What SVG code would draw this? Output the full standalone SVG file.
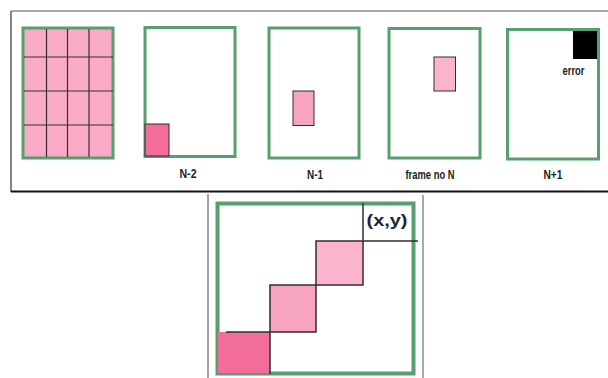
<svg xmlns="http://www.w3.org/2000/svg" width="608" height="378" viewBox="0 0 608 378">
<style>
.frame{fill:#ffffff;stroke:#55a06c;stroke-width:3}
.grid{stroke:#3a2a2e;stroke-width:1.2;fill:none}
.edge{stroke:#3a2a2e;stroke-width:1.5;fill:none}
.lbl{font-family:"Liberation Sans",Arial,sans-serif;font-weight:bold;font-size:12px;fill:#222;text-anchor:middle}
</style>
<rect width="608" height="378" fill="#ffffff"/>
<!-- top box -->
<g id="top-box">
<line x1="11" y1="11" x2="608" y2="11" stroke="#555" stroke-width="1"/>
<line x1="11" y1="11" x2="11" y2="192" stroke="#333" stroke-width="1.2"/>
<line x1="11" y1="191.5" x2="608" y2="191.5" stroke="#111" stroke-width="2"/>
</g>
<g id="panel-grid">
<rect x="23" y="28" width="90" height="130" fill="#f9aac6" stroke="#55a06c" stroke-width="3"/>
<g class="grid">
<line x1="46.5" y1="29" x2="46.5" y2="157"/>
<line x1="67.5" y1="29" x2="67.5" y2="157"/>
<line x1="89" y1="29" x2="89" y2="157"/>
<line x1="24" y1="57" x2="113" y2="57"/>
<line x1="24" y1="91" x2="113" y2="91"/>
<line x1="24" y1="125" x2="113" y2="125"/>
</g>
</g>
<g id="panel-n-2">
<rect class="frame" x="145" y="27.5" width="90" height="129"/>
<rect x="145" y="124" width="24" height="32" fill="#f26d9b" stroke="#3a2a2e" stroke-width="1"/>
<text class="lbl" x="188" y="178" textLength="17" lengthAdjust="spacingAndGlyphs">N-2</text>
</g>
<g id="panel-n-1">
<rect class="frame" x="269" y="28" width="90" height="130"/>
<rect x="293" y="91" width="21" height="34.5" fill="#f7a3c2" stroke="#3a2a2e" stroke-width="1"/>
<text class="lbl" x="315" y="179" textLength="16" lengthAdjust="spacingAndGlyphs">N-1</text>
</g>
<g id="panel-n">
<rect class="frame" x="389" y="28.5" width="91" height="129.5"/>
<rect x="434" y="57" width="21.5" height="34" fill="#fbb4cd" stroke="#3a2a2e" stroke-width="1"/>
<text class="lbl" x="430" y="179" textLength="49" lengthAdjust="spacingAndGlyphs">frame no N</text>
</g>
<g id="panel-n+1">
<rect class="frame" x="507.5" y="29.5" width="91" height="129.5"/>
<rect x="573" y="31" width="24" height="28" fill="#000000"/>
<text class="lbl" x="573.5" y="75" font-size="11" textLength="22" lengthAdjust="spacingAndGlyphs">error</text>
<text class="lbl" x="553" y="179" textLength="19" lengthAdjust="spacingAndGlyphs">N+1</text>
</g>
<!-- bottom box -->
<g id="bottom-box">
<line x1="208" y1="194" x2="208" y2="378" stroke="#444" stroke-width="1"/>
<line x1="423" y1="195" x2="423" y2="378" stroke="#555" stroke-width="1"/>
</g>
<g id="panel-path">
<rect x="217.5" y="203.5" width="196" height="170" fill="#ffffff" stroke="#55a06c" stroke-width="4"/>
<rect x="218" y="332" width="52" height="41" fill="#f26d9b"/>
<rect x="270" y="285" width="46" height="47" fill="#f7a3c2"/>
<rect x="316" y="241" width="47" height="44" fill="#fbb4cd"/>
</g>
<g id="connectors" class="edge">
<polyline points="226,332 316,332 316,241 418,241"/>
<polyline points="270,374 270,285 363,285 363,203"/>
</g>
<text x="387" y="226" font-family="'Liberation Sans',Arial,sans-serif" font-weight="bold" font-size="16" fill="#1c2340" text-anchor="middle" textLength="41" lengthAdjust="spacingAndGlyphs">(x,y)</text>
</svg>
